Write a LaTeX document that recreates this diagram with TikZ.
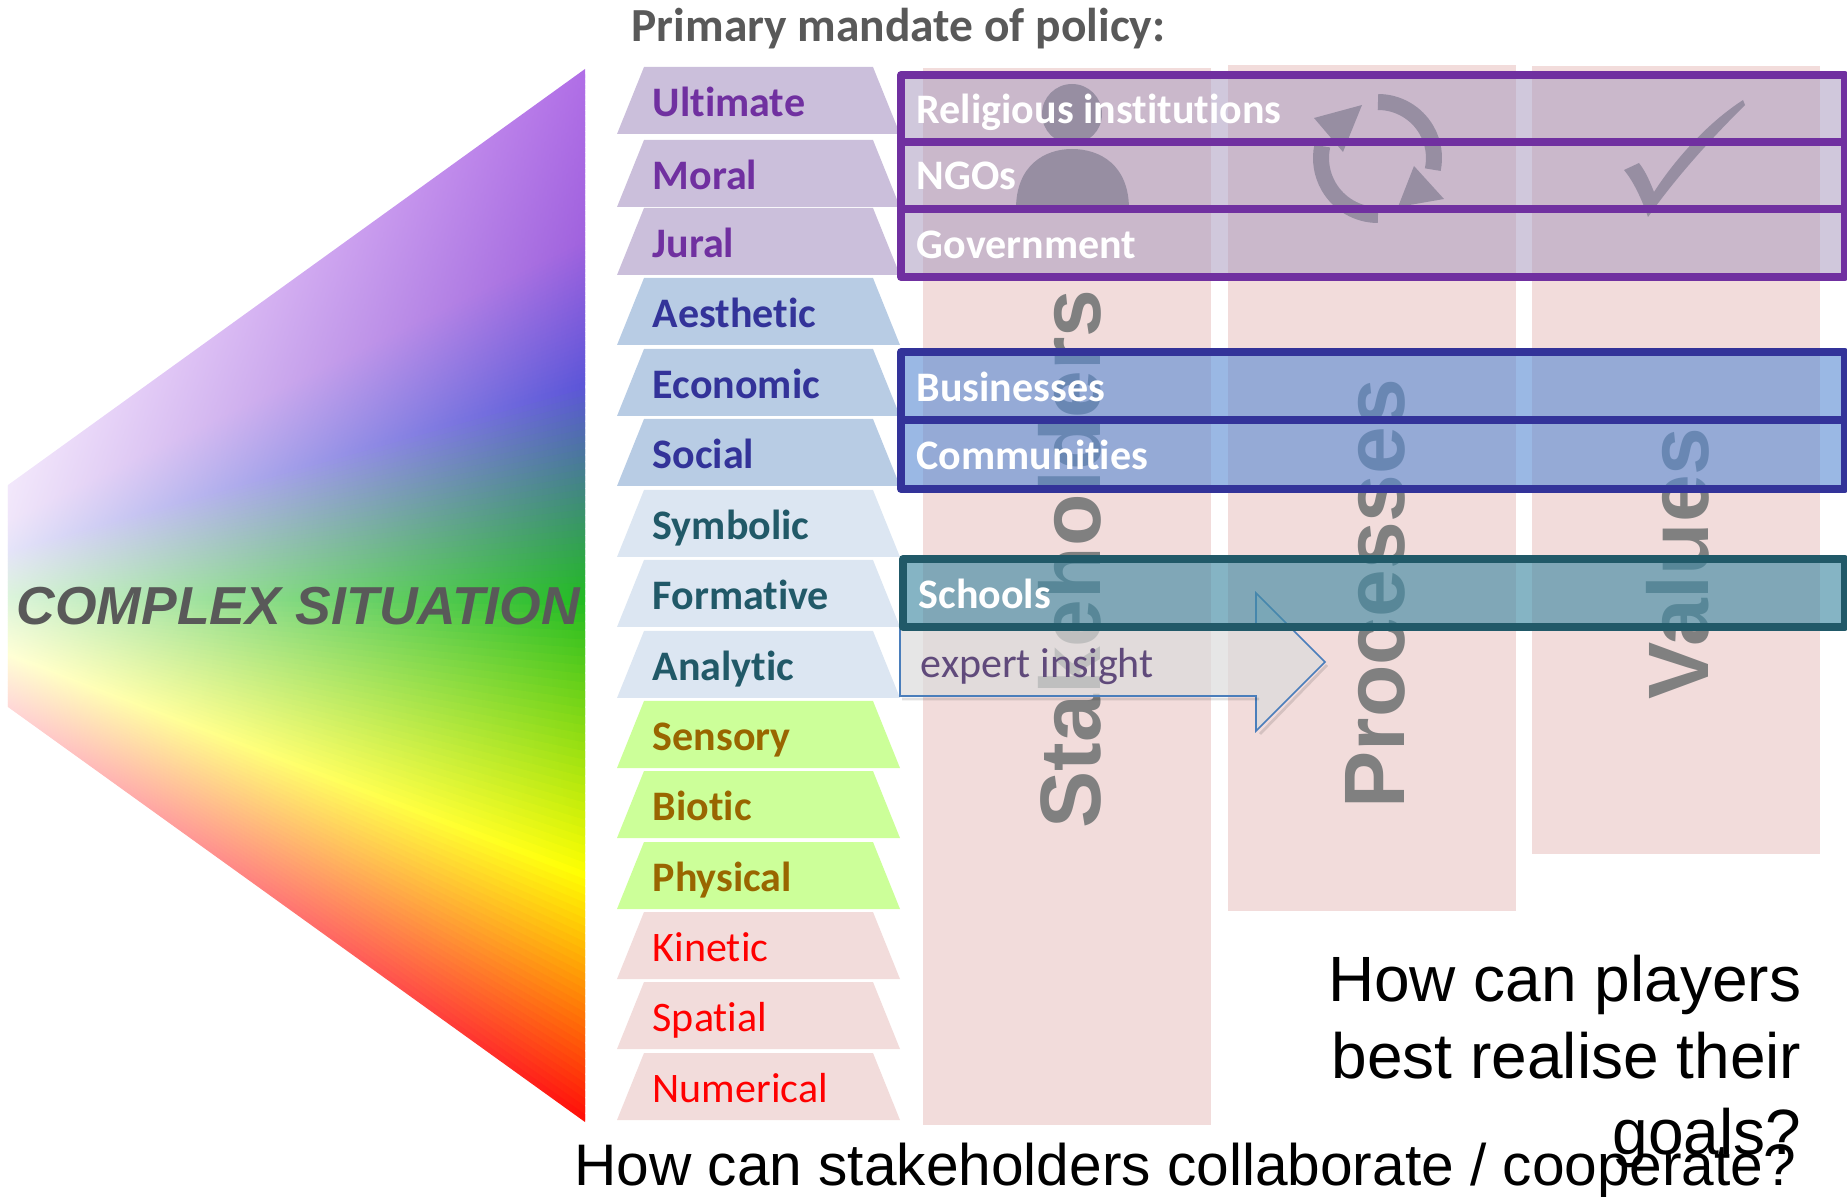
\documentclass[tikz,border=0pt]{standalone}
\usepackage{fontspec}
\newfontfamily\calibrifont[Ligatures=CommonOff]{Carlito}
\newfontfamily\arialfont{Liberation Sans}
\definecolor{fanpurple}{HTML}{B06EE6}
\definecolor{fanviolet}{HTML}{A062DE}
\definecolor{fanblue}{HTML}{5C55D8}
\definecolor{fangreen}{HTML}{22BB22}
\definecolor{fanyellow}{HTML}{FFFF00}
\definecolor{fanred}{HTML}{FF0808}
\definecolor{bandpurple}{HTML}{CBBFDB}
\definecolor{bandblue}{HTML}{B8CCE4}
\definecolor{bandpale}{HTML}{DCE6F2}
\definecolor{bandgreen}{HTML}{CCFF99}
\definecolor{bandpink}{HTML}{F2DCDB}
\definecolor{wordpurple}{HTML}{7030A0}
\definecolor{wordblue}{HTML}{333399}
\definecolor{wordteal}{HTML}{215968}
\definecolor{wordbrown}{HTML}{996600}
\definecolor{titlegray}{HTML}{595959}
\definecolor{arrowline}{HTML}{4A7EBB}
\tikzset{
  bandbold/.style={anchor=base west,inner sep=0pt,font=\calibrifont\bfseries\fontsize{11.95}{14}\selectfont},
  bandthin/.style={anchor=base west,inner sep=0pt,font=\calibrifont\fontsize{11.95}{14}\selectfont},
  rowlabel/.style={bandbold,text=white},
  columnword/.style={rotate=90,anchor=base west,inner sep=0pt,text=gray,font=\arialfont\bfseries\fontsize{24.4}{28}\selectfont},
  icon/.style={fill=gray},
  purpleframe/.style={line width=2.28pt,line join=round,draw=wordpurple,fill={rgb,255:red,170;green,155;blue,191},fill opacity=.55},
  blueframe/.style={line width=2.28pt,line join=round,draw=wordblue,fill={rgb,255:red,92;green,140;blue,211},fill opacity=.62},
  tealframe/.style={line width=2.28pt,line join=round,draw=wordteal,fill={rgb,255:red,68;green,140;blue,165},fill opacity=.65},
  question/.style={anchor=base east,inner sep=0pt,text=black,font=\arialfont\fontsize{18.2}{20}\selectfont},
}
\begin{document}
\begin{tikzpicture}[x=0.01cm,y=-0.01cm]
\useasboundingbox (0,0) rectangle (1847,1197);

% Fan on the left
\begin{scope}
\clip (8,485) -- (585,69) -- (585,1122) -- (8,707) -- cycle;
\foreach \ca/\cb/\ta/\tb in {fanpurple/fanviolet/0/.16,fanviolet/fanblue/.16/.297,fanblue/fangreen/.297/.501,fangreen/fanyellow/.501/.762,fanyellow/fanred/.762/1}{
  \foreach \k in {0,...,31}{
    \pgfmathsetmacro\tu{\ta+(\tb-\ta)*\k/32}
    \pgfmathsetmacro\tv{\ta+(\tb-\ta)*(\k+1.8)/32}
    \pgfmathsetmacro\mx{100*\k/32}
    \colorlet{fanc}{\cb!\mx!\ca}
    \shade [left color=fanc!16!white,right color=fanc] (8,{485+222*\tu}) -- (585,{69+1053*\tu}) -- (585,{69+1053*\tv}) -- (8,{485+222*\tv}) -- cycle;
  }
}
\end{scope}
\node (situation) [anchor=base west,inner sep=0pt,text=titlegray,font=\arialfont\bfseries\itshape\fontsize{15.2}{18}\selectfont] at (16,625) {COMPLEX SITUATION};

% Title
\node (mandate) [anchor=base west,inner sep=0pt,text=titlegray,font=\calibrifont\bfseries\fontsize{13.5}{16}\selectfont] at (631,42) {Primary mandate of policy:};

% Stack of bands
\foreach \y/\word/\bandc/\wordc/\sty in {
  67/Ultimate/bandpurple/wordpurple/bandbold,
  140/Moral/bandpurple/wordpurple/bandbold,
  208/Jural/bandpurple/wordpurple/bandbold,
  278/Aesthetic/bandblue/wordblue/bandbold,
  349/Economic/bandblue/wordblue/bandbold,
  419/Social/bandblue/wordblue/bandbold,
  490/Symbolic/bandpale/wordteal/bandbold,
  560/Formative/bandpale/wordteal/bandbold,
  631/Analytic/bandpale/wordteal/bandbold,
  701/Sensory/bandgreen/wordbrown/bandbold,
  771/Biotic/bandgreen/wordbrown/bandbold,
  842/Physical/bandgreen/wordbrown/bandbold,
  912/Kinetic/bandpink/red/bandthin,
  982/Spatial/bandpink/red/bandthin,
  1053/Numerical/bandpink/red/bandthin}{
  \fill [fill=\bandc] (644,\y) -- (873,\y) -- (900,\y+67) -- (617,\y+67) -- cycle;
  \node (\word) [\sty,text=\wordc] at (652,\y+49.5) {\word};
}

% Columns
\fill [fill=bandpink] (923,68) rectangle (1211,1125);
\fill [fill=bandpink] (1228,65) rectangle (1516,911);
\fill [fill=bandpink] (1532,66) rectangle (1820,854);
\node (stakeholders) [columnword] at (1100,829) {Stakeholders};
\node (processes) [columnword] at (1404,809) {Processes};
\node (values) [columnword] at (1708,700) {Values};

% Person
\fill [icon] (1072,114) circle [radius=30];
\fill [icon] (1016,209) .. controls (1016,165) and (1045,149) .. (1072,149) .. controls (1100,149) and (1129,165) .. (1129,209) -- cycle;

% Cycle
\draw [line width=4.55pt,gray] (1378,158) ++(-90:56) arc (-90:12:56);
\draw [line width=4.55pt,gray] (1378,158) ++(90:57) arc (90:192:57);
\fill [icon] (1414,166) -- (1444,199) -- (1398,207) -- cycle;
\fill [icon] (1362,105) -- (1314,118) -- (1343,152) -- cycle;

% Tick
\fill [icon] (1624,170) -- (1639,163) .. controls (1646,172) and (1650,182) .. (1654,192) .. controls (1668,170) and (1700,128) .. (1743,100) -- (1745,105) .. controls (1715,135) and (1680,172) .. (1648,217) .. controls (1642,200) and (1634,182) .. (1624,170) -- cycle;

% Arrow
\draw [draw=arrowline,line width=.45pt,fill={rgb,255:red,219;green,219;blue,219},fill opacity=.7] (900,628) -- (1256,628) -- (1256,593) -- (1325,662) -- (1256,731) -- (1256,696) -- (900,696) -- cycle;
\draw [black,opacity=.12,line width=.8pt] (902,699) -- (1259,699) (1260,734) -- (1327,665);
\node (insight) [bandthin,text={rgb,255:red,96;green,74;blue,123}] at (920,677.5) {expert insight};

% Frames
\draw [purpleframe] (901,75) rectangle (1845,142);
\draw [purpleframe] (901,142) rectangle (1845,209);
\draw [purpleframe] (901,209) rectangle (1845,277);
\draw [blueframe] (901,352) rectangle (1845,420);
\draw [blueframe] (901,420) rectangle (1845,489);
\draw [tealframe] (903,559) rectangle (1845,627);
\node (religious) [rowlabel] at (916,124) {Religious institutions};
\node (ngos) [rowlabel] at (916,190) {NGOs};
\node (government) [rowlabel] at (916,259) {Government};
\node (businesses) [rowlabel] at (916,402) {Businesses};
\node (communities) [rowlabel] at (916,470) {Communities};
\node (schools) [rowlabel] at (918,609) {Schools};

% Questions
\node (players) [question] at (1802,1001) {How can players};
\node (realise) [question] at (1802,1078) {best realise their};
\node (goals) [question] at (1802,1154) {goals?};
\node (cooperate) [question,font=\arialfont\fontsize{16.67}{20}\selectfont] at (1797,1185) {How can stakeholders collaborate / cooperate?};
\end{tikzpicture}
\end{document}
